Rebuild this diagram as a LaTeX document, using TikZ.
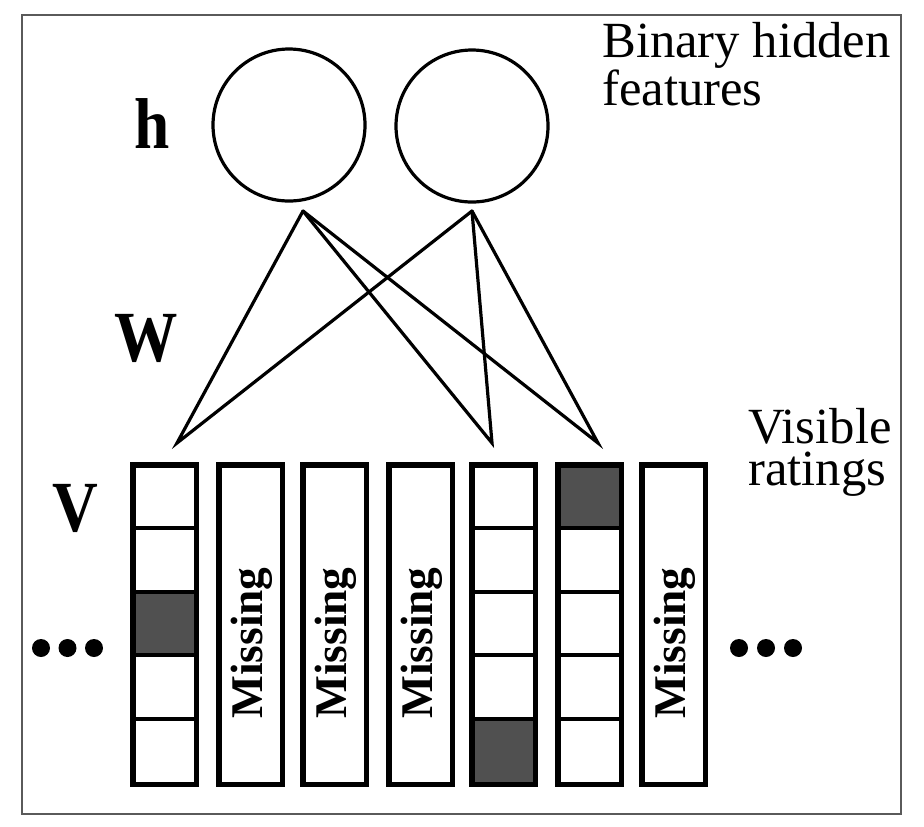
\documentclass[tikz,border=0pt]{standalone}
\usepackage{fontspec}
\setmainfont{Liberation Serif}
\definecolor{cellgray}{RGB}{80,80,80}
\definecolor{framegray}{RGB}{90,90,90}
\begin{document}
\begin{tikzpicture}[x=0.75pt,y=-0.75pt,
  frame/.style={draw=framegray,line width=1.1pt},
  wire/.style={line width=2.4pt,line join=miter,line cap=round},
  hid/.style={circle,draw,line width=2.4pt,minimum size=114pt,inner sep=0pt},
  colbox/.style={draw,line width=4.1pt,minimum width=47.6pt,minimum height=239.6pt,inner sep=0pt},
  divider/.style={line width=2.5pt},
  lbl/.style={font=\fontsize{38}{31.5}\selectfont,inner sep=0pt,align=left,anchor=base west},
  sym/.style={font=\fontsize{54}{54}\selectfont\bfseries,inner sep=0pt,xscale=0.88,anchor=base},
  miss/.style={font=\fontsize{34}{34}\selectfont\bfseries,inner sep=0pt,rotate=90,anchor=base},
  dotc/.style={circle,fill=black,inner sep=0pt,minimum size=13.5pt}
]
\useasboundingbox (0,0) rectangle (924,826);
\fill[white] (0,0) rectangle (924,826);
\draw[frame] (22,15) rectangle (901,814);

% hidden units
\node[hid] (h1) at (289,125) {};
\node[hid] (h2) at (472,126) {};

% connection points
\coordinate (a1) at (303,211);
\coordinate (a2) at (472,211);
\coordinate (b1) at (177,443);
\coordinate (b2) at (492,443);
\coordinate (b3) at (598,443);
\draw[wire] (a1) -- (b1) -- (a2);
\draw[wire] (a1) -- (b2) -- (a2);
\draw[wire] (a1) -- (b3) -- (a2);

% dark cells
\fill[cellgray] (130,592) rectangle (199,655);
\fill[cellgray] (469,719) rectangle (538,787);
\fill[cellgray] (555,462) rectangle (624,528);

% dividers
\foreach \x in {130,469,555}{
  \foreach \y in {528,592,655,719}{
    \draw[divider] (\x,\y) -- ++(69,0);
  }
}

% columns
\foreach \x [count=\i] in {130,216,300,386,469,555,639}{
  \node[colbox] (col\i) at (\x+34.5,624.5) {};
}

% missing labels
\foreach \x [count=\i] in {216,300,386,639}{
  \node[miss] (miss\i) at (\x+46.5,643) {Missing};
}

% letters
\node[sym] (hl) at (152.5,148) {h};
\node[sym] (wl) at (146.5,361) {W};
\node[sym] (vl) at (75,531) {V};

% dots
\node[dotc] (ld1) at (41,648) {};
\node[dotc] (ld2) at (67.5,648) {};
\node[dotc] (ld3) at (94,648) {};
\node[dotc] (rd1) at (739,648) {};
\node[dotc] (rd2) at (766,648) {};
\node[dotc] (rd3) at (793,648) {};

% side labels
\node[lbl] (hidlbl) at (602,105) {Binary hidden\\features};
\node[lbl] (vislbl) at (748,485) {Visible\\ratings};
\end{tikzpicture}
\end{document}
